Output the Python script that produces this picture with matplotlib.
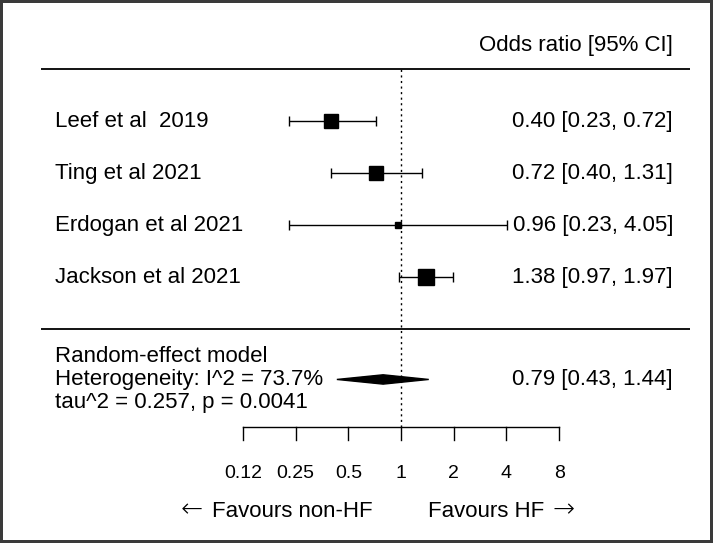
import numpy as np
import matplotlib.pyplot as plt
from matplotlib.patches import Polygon

plt.rcParams['font.family'] = ['Liberation Sans', 'DejaVu Sans']

# ---------------- data ----------------
studies = ["Leef et al  2019", "Ting et al 2021", "Erdogan et al 2021", "Jackson et al 2021"]
odds = [0.40, 0.72, 0.96, 1.38]
lower = [0.23, 0.40, 0.23, 0.97]
upper = [0.72, 1.31, 4.05, 1.97]
weights = [28.8, 28.8, 4.2, 38.2]  # % weight, sets square size

pooled_or, pooled_lo, pooled_hi = 0.79, 0.43, 1.44
model_lines = ["Random-effect model",
               "Heterogeneity: I^2 = 73.7%",
               "tau^2 = 0.257, p = 0.0041"]

ticks = [0.125, 0.25, 0.5, 1, 2, 4, 8]
tick_labels = ["0.12", "0.25", "0.5", "1", "2", "4", "8"]

# ---------------- figure ----------------
fig = plt.figure(figsize=(7.13, 5.43), dpi=100)
fig.patch.set_edgecolor("#3a3a3a")
fig.patch.set_linewidth(3)
ax = fig.add_axes([0, 0, 1, 1])
ax.set_xscale("log", base=2)
ax.set_xlim(2 ** -7.61, 2 ** 5.92)
ax.set_ylim(-4.115, 6.327)
ax.axis("off")

fs = 16
rows = np.arange(len(studies), 0, -1)  # 4,3,2,1
xl, xr = 0.077, 0.944  # text columns (axes fraction)
ytr = ax.get_yaxis_transform()

# header
ax.text(xr, 5.46, "Odds ratio [95% CI]", transform=ytr, ha="right", va="center", fontsize=fs)
ax.hlines([5.0, 0.0], 0.0575, 0.968, transform=ytr, color="black", lw=1.3)

# reference line
ax.vlines(1, -1.885, 5.0, color="black", lw=1, linestyles=(0, (1.5, 2.5)))

# studies
for y, name, o, lo, hi, w in zip(rows, studies, odds, lower, upper, weights):
    ax.text(xl, y, name, transform=ytr, ha="left", va="center", fontsize=fs)
    ax.errorbar(o, y, xerr=[[o - lo], [hi - o]], fmt="none", ecolor="black",
                elinewidth=1, capsize=3.5, capthick=1)
    ax.plot(o, y, marker="s", color="black", markersize=1.76 * np.sqrt(w), zorder=3)
    ax.text(xr, y, f"{o:.2f} [{lo:.2f}, {hi:.2f}]", transform=ytr,
            ha="right", va="center", fontsize=fs)

# summary
ys = -0.52
for i, line in enumerate(model_lines):
    ax.text(xl, ys - i * 0.45, line, transform=ytr, ha="left", va="center", fontsize=fs)
yd = ys - 0.45
diamond = Polygon([[pooled_lo, yd], [pooled_or, yd + 0.09], [pooled_hi, yd], [pooled_or, yd - 0.09]],
                  closed=True, color="black")
ax.add_patch(diamond)
ax.text(xr, yd, f"{pooled_or:.2f} [{pooled_lo:.2f}, {pooled_hi:.2f}]", transform=ytr,
        ha="right", va="center", fontsize=fs)

# x axis
ya = -1.885
ax.plot([ticks[0], ticks[-1]], [ya, ya], color="black", lw=1)
for t, lab in zip(ticks, tick_labels):
    ax.plot([t, t], [ya, ya - 0.25], color="black", lw=1)
    ax.text(t, -2.78, lab, ha="center", va="center", fontsize=14)

yf = -3.5
ax.text(2 ** -0.53, yf, "Favours non-HF", ha="right", va="center", fontsize=fs)
ax.text(2 ** 0.51, yf, "Favours HF", ha="left", va="center", fontsize=fs)
ax.text(2 ** -3.97, yf + 0.02, "\u2190", ha="center", va="center", fontsize=19,
        family="DejaVu Sans", fontweight="light")
ax.text(2 ** 3.09, yf + 0.02, "\u2192", ha="center", va="center", fontsize=19,
        family="DejaVu Sans", fontweight="light")

fig.savefig("out.png", dpi=100)
